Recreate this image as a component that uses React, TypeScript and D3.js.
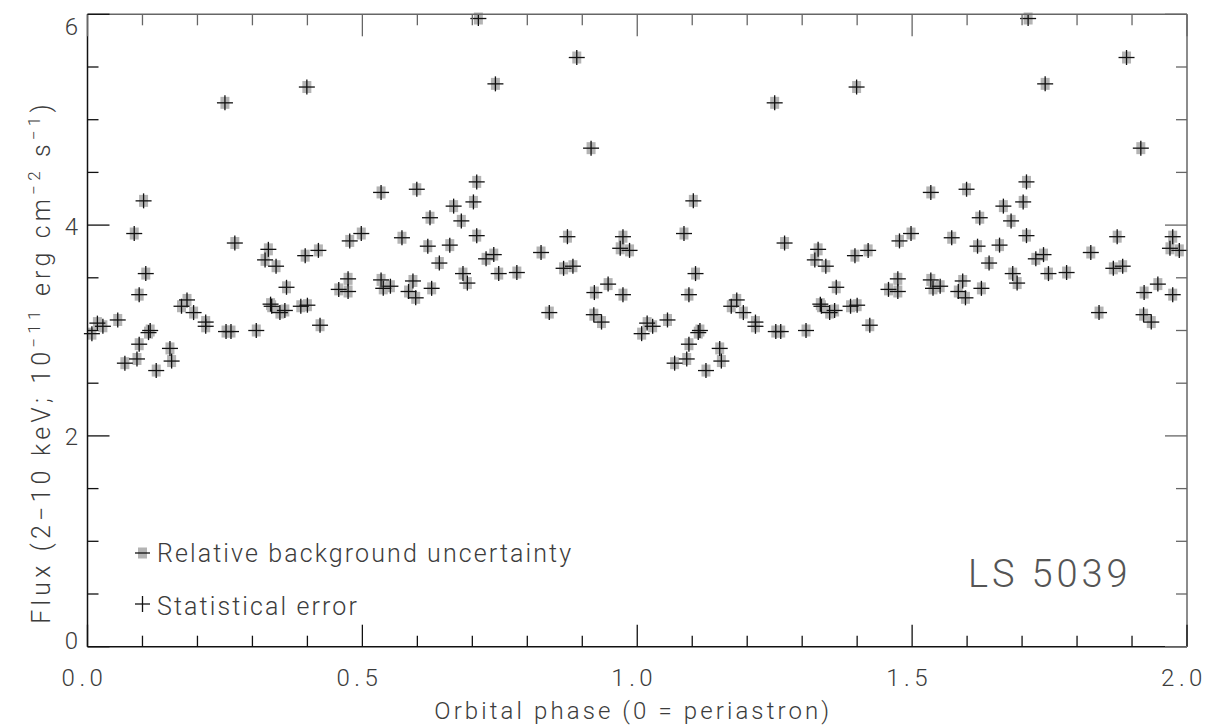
import React from "react";
import * as d3 from "d3";

const phase = [0.008,0.018,0.028,0.055,0.068,0.085,0.090,0.094,0.094,0.102,0.106,0.111,0.114,0.125,0.150,0.153,0.171,0.181,0.193,0.215,0.215,0.250,0.252,0.261,0.268,0.307,0.323,0.329,0.333,0.335,0.343,0.350,0.359,0.362,0.388,0.396,0.399,0.400,0.420,0.423,0.457,0.474,0.474,0.477,0.498,0.534,0.534,0.538,0.551,0.572,0.584,0.592,0.597,0.599,0.619,0.623,0.626,0.640,0.659,0.666,0.680,0.683,0.691,0.702,0.708,0.708,0.711,0.725,0.739,0.742,0.748,0.781,0.825,0.840,0.866,0.873,0.883,0.890,0.916,0.921,0.922,0.935,0.947,0.969,0.974,0.974,0.986];
const flux = [2.97,3.07,3.04,3.10,2.69,3.92,2.73,3.34,2.87,4.23,3.54,2.98,3.00,2.62,2.83,2.71,3.23,3.29,3.17,3.08,3.04,5.16,2.99,2.99,3.83,3.00,3.67,3.77,3.25,3.23,3.61,3.17,3.19,3.41,3.23,3.71,5.31,3.24,3.76,3.05,3.39,3.49,3.37,3.85,3.92,4.31,3.48,3.40,3.42,3.88,3.37,3.47,3.31,4.34,3.80,4.07,3.40,3.64,3.81,4.18,4.04,3.54,3.45,4.22,4.41,3.90,5.96,3.68,3.72,5.34,3.54,3.55,3.74,3.17,3.59,3.89,3.61,5.59,4.73,3.15,3.36,3.08,3.44,3.78,3.89,3.34,3.76];
const cycles = [0, 1];
const xTickLabels = ["0.0", "0.5", "1.0", "1.5", "2.0"];
const xTickValues = [0, 0.5, 1.0, 1.5, 2.0];
const yTickValues = [0, 2, 4, 6];
const legendLabels = ["Relative background uncertainty", "Statistical error"];
const sourceName = "LS 5039";

const W = 1214, H = 726;
const L = 87.5, R = 1187, T = 14.3, B = 646.7;
const FONT = "Roboto, 'DejaVu Sans', sans-serif";
const TXT = "#3c3c3c";

export default function App() {
  const x = d3.scaleLinear().domain([0, 2]).range([L, R]);
  const y = d3.scaleLinear().domain([0, 6]).range([B, T]);
  const xMinor = d3.range(0, 21).map((i) => i / 10);
  const yMinor = d3.range(0, 13).map((i) => i / 2);
  const isMajX = (v: number) => Math.abs(v * 2 - Math.round(v * 2)) < 1e-6;
  const isMajY = (v: number) => Math.abs(v / 2 - Math.round(v / 2)) < 1e-6;

  const pts: { px: number; f: number }[] = [];
  cycles.forEach((c) => phase.forEach((p, i) => pts.push({ px: p + c, f: flux[i] })));

  const bgHalfW = 4.5, bgHalfH = 6;
  const crossHalfW = 8, crossHalfH = 7.5;

  return (
    <svg width={W} height={H} style={{ position: "absolute", left: 0, top: 0, background: "#fff" }}>
      <g>
        {pts.map((d, i) => (
          <rect key={"b" + i} x={x(d.px) - bgHalfW} y={y(d.f) - bgHalfH} width={bgHalfW * 2} height={bgHalfH * 2} fill="#b4b4b4" />
        ))}
      </g>
      <g stroke="#111" strokeWidth={1.3}>
        {pts.map((d, i) => (
          <g key={"c" + i}>
            <line x1={x(d.px) - crossHalfW} x2={x(d.px) + crossHalfW} y1={y(d.f)} y2={y(d.f)} />
            <line x1={x(d.px)} x2={x(d.px)} y1={Math.max(T, y(d.f) - crossHalfH)} y2={y(d.f) + crossHalfH} />
          </g>
        ))}
      </g>
      <line x1={L} x2={R} y1={T} y2={T} stroke="#666" strokeWidth={1.5} />
      <line x1={R} x2={R} y1={T} y2={B} stroke="#666" strokeWidth={1.5} />
      <line x1={L} x2={L} y1={T} y2={B} stroke="#111" strokeWidth={1.5} />
      <line x1={L} x2={R} y1={B} y2={B} stroke="#111" strokeWidth={1.5} />
      {xMinor.map((v, i) => {
        const len = isMajX(v) ? 22 : 11;
        return (
          <g key={"xt" + i}>
            <line x1={x(v)} x2={x(v)} y1={B} y2={B - len} stroke="#111" strokeWidth={1.3} />
            <line x1={x(v)} x2={x(v)} y1={T} y2={T + len} stroke="#666" strokeWidth={1.3} />
          </g>
        );
      })}
      {yMinor.map((v, i) => {
        const len = isMajY(v) ? 22 : 11;
        return (
          <g key={"yt" + i}>
            <line x1={L} x2={L + len} y1={y(v)} y2={y(v)} stroke="#111" strokeWidth={1.3} />
            <line x1={R} x2={R - len} y1={y(v)} y2={y(v)} stroke="#666" strokeWidth={1.3} />
          </g>
        );
      })}
      {xTickValues.map((v, i) => (
        <text key={"xl" + i} x={x(v) - 3} y={686} textAnchor="middle" fontFamily={FONT} fontWeight={300} fontSize={24} letterSpacing={4.5} fill={TXT}>
          {xTickLabels[i]}
        </text>
      ))}
      {yTickValues.map((v, i) => {
        const cy = Math.min(B - 7, Math.max(T + 11, y(v)));
        return (
          <text key={"yl" + i} x={78} y={cy + 9.5} textAnchor="end" fontFamily={FONT} fontWeight={300} fontSize={24} fill={TXT}>
            {String(v)}
          </text>
        );
      })}
      <text x={(L + R) / 2 - 4} y={719} textAnchor="middle" fontFamily={FONT} fontWeight={300} fontSize={24} letterSpacing={3.1} fill={TXT}>
        Orbital phase (0 = periastron)
      </text>
      <text transform={`translate(50,${362}) rotate(-90)`} textAnchor="middle" fontFamily={FONT} fontWeight={300} fontSize={25} letterSpacing={4.2} fill={TXT}>
        Flux (2−10 keV; 10<tspan dy={-10} fontSize={17}>−11</tspan><tspan dy={10}> erg cm</tspan><tspan dy={-10} fontSize={17}>−2</tspan><tspan dy={10}> s</tspan><tspan dy={-10} fontSize={17}>−1</tspan><tspan dy={10}>)</tspan>
      </text>
      <rect x={138} y={547.5} width={9} height={11} fill="#b4b4b4" />
      <line x1={135} x2={150} y1={553} y2={553} stroke="#111" strokeWidth={1.3} />
      <line x1={135} x2={150} y1={604} y2={604} stroke="#111" strokeWidth={1.3} />
      <line x1={142.5} x2={142.5} y1={596} y2={612} stroke="#111" strokeWidth={1.3} />
      <text x={157} y={562} fontFamily={FONT} fontWeight={300} fontSize={25} letterSpacing={2.1} fill={TXT}>{legendLabels[0]}</text>
      <text x={157} y={615} fontFamily={FONT} fontWeight={300} fontSize={25} letterSpacing={2.1} fill={TXT}>{legendLabels[1]}</text>
      <text x={968} y={587} fontFamily={FONT} fontWeight={300} fontSize={38} letterSpacing={3.9} fill="#555">{sourceName}</text>
    </svg>
  );
}
